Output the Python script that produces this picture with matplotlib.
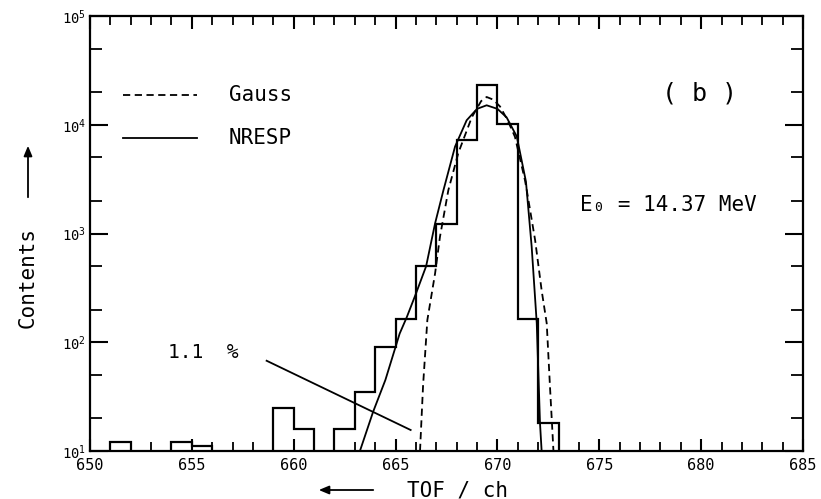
import numpy as np
import matplotlib
matplotlib.use("Agg")
import matplotlib.pyplot as plt
from matplotlib.ticker import LogLocator, FixedLocator, NullFormatter

plt.rcParams['font.family'] = ['DejaVu Sans Mono', 'DejaVu Sans']
plt.rcParams['mathtext.fontset'] = 'custom'
plt.rcParams['mathtext.rm'] = 'DejaVu Sans Mono'
plt.rcParams['mathtext.it'] = 'DejaVu Sans Mono'

# ---- data ----
bin_edges = list(range(650, 686))
counts = [0, 12, 0, 0, 12, 11, 0, 0, 0, 25, 16, 0, 16, 35, 90, 165, 500, 1220,
          7300, 23000, 10200, 165, 18, 0, 0, 0, 0, 0, 0, 0, 0, 0, 0, 0, 0]

gauss_x = [666.2, 666.35, 666.56, 666.94, 667.18, 667.59, 668.08, 668.74, 669.2,
           669.47, 669.8, 670.13, 670.5, 670.86, 671.35, 671.44, 671.85, 672.17,
           672.42, 672.58, 672.7, 672.75]
gauss_y = [10, 40, 160, 430, 935, 2500, 5500, 11700, 16500, 18000, 17000, 14700,
           11000, 7750, 3100, 2500, 870, 300, 149, 39, 15, 10]

nresp_x = [663.25, 663.9, 664.5, 665.2, 665.55, 666.0, 666.5, 666.94, 667.35,
           667.92, 668.49, 669.0, 669.47, 670.0, 670.45, 670.95, 671.4, 671.68,
           671.93, 672.09, 672.17]
nresp_y = [10, 23, 45, 120, 170, 280, 500, 1240, 2500, 6300, 11000, 14000, 15100,
           14000, 11700, 7800, 3000, 760, 150, 18, 10]

pointer_x = [658.67, 665.74]
pointer_y = [67.6, 15.6]

x_major = [650, 655, 660, 665, 670, 675, 680, 685]
x_tick_labels = ["650", "655", "660", "665", "670", "675", "680", "685"]
y_major = [1e1, 1e2, 1e3, 1e4, 1e5]
y_tick_labels = [r"$10^{1}$", r"$10^{2}$", r"$10^{3}$", r"$10^{4}$", r"$10^{5}$"]

# ---- figure ----
fig = plt.figure(figsize=(8.21, 4.99), dpi=100)
ax = fig.add_axes([90/821, 1-451/499, 713/821, 435/499])

plot_counts = np.where(np.array(counts) > 0, counts, 1.0)
ax.stairs(plot_counts, bin_edges, color='black', lw=1.6, baseline=None)
ax.plot(gauss_x, gauss_y, color='black', lw=1.3, ls=(0, (4, 2.5)))
ax.plot(nresp_x, nresp_y, color='black', lw=1.3)
ax.plot(pointer_x, pointer_y, color='black', lw=1.3)

ax.set_yscale('log')
ax.set_xlim(650, 685)
ax.set_ylim(10, 1e5)

ax.xaxis.set_major_locator(FixedLocator(x_major))
ax.set_xticklabels(x_tick_labels, fontsize=11)
ax.xaxis.set_minor_locator(FixedLocator(list(range(650, 686))))
ax.yaxis.set_major_locator(FixedLocator(y_major))
ax.set_yticklabels(y_tick_labels, fontsize=10)
ax.yaxis.set_minor_locator(LogLocator(base=10, subs=(2.0, 5.0)))
ax.yaxis.set_minor_formatter(NullFormatter())

ax.tick_params(axis='x', which='major', direction='in', length=9, width=1.5,
               top=True, bottom=True, pad=5)
ax.tick_params(axis='x', which='minor', direction='in', length=6.5, width=1.3,
               top=True, bottom=True)
ax.tick_params(axis='y', which='major', direction='in', length=13, width=1.5,
               left=True, right=True, pad=3)
ax.tick_params(axis='y', which='minor', direction='in', length=8.5, width=1.3,
               left=True, right=True)
for s in ax.spines.values():
    s.set_linewidth(1.6)

def axfrac(px, py):
    return ((px - 90) / 713, (451 - py) / 435)

# legend (manual)
lx0, ly = axfrac(123, 95)
lx1, _ = axfrac(197, 95)
ax.plot([lx0, lx1], [ly, ly], transform=ax.transAxes, color='black', lw=1.3,
        ls=(0, (4, 2.5)))
tx, _ = axfrac(229, 95)
ax.text(tx, ly, "Gauss", transform=ax.transAxes, fontsize=15, va='center', ha='left')
_, ly2 = axfrac(123, 138)
ax.plot([lx0, lx1], [ly2, ly2], transform=ax.transAxes, color='black', lw=1.3)
ax.text(tx, ly2, "NRESP", transform=ax.transAxes, fontsize=15, va='center', ha='left')

bx, by = axfrac(700, 94)
ax.text(bx, by, "( b )", transform=ax.transAxes, fontsize=18, va='center', ha='center')
ex, ey = axfrac(580, 205)
ax.text(ex, ey, "E\u2080 = 14.37 MeV", transform=ax.transAxes, fontsize=15,
        va='center', ha='left')
px_, py_ = axfrac(168, 353)
ax.text(px_, py_, "1.1  %", transform=ax.transAxes, fontsize=14, va='center', ha='left')

# axis labels with arrows
fig.text(28/821, 1-277/499, "Contents", rotation=90, fontsize=15,
         ha='center', va='center')
fig.text(457/821, 1-490/499, "TOF / ch", fontsize=15, ha='center', va='center')
arrow = dict(arrowstyle='-|>,head_length=0.6,head_width=0.25', color='black', lw=1.3)
ax.annotate("", xy=(28/821, 1-143/499), xytext=(28/821, 1-200/499),
            xycoords='figure fraction', textcoords='figure fraction', arrowprops=arrow)
ax.annotate("", xy=(316/821, 1-490/499), xytext=(376/821, 1-490/499),
            xycoords='figure fraction', textcoords='figure fraction', arrowprops=arrow)

fig.savefig("out.png", dpi=100)
